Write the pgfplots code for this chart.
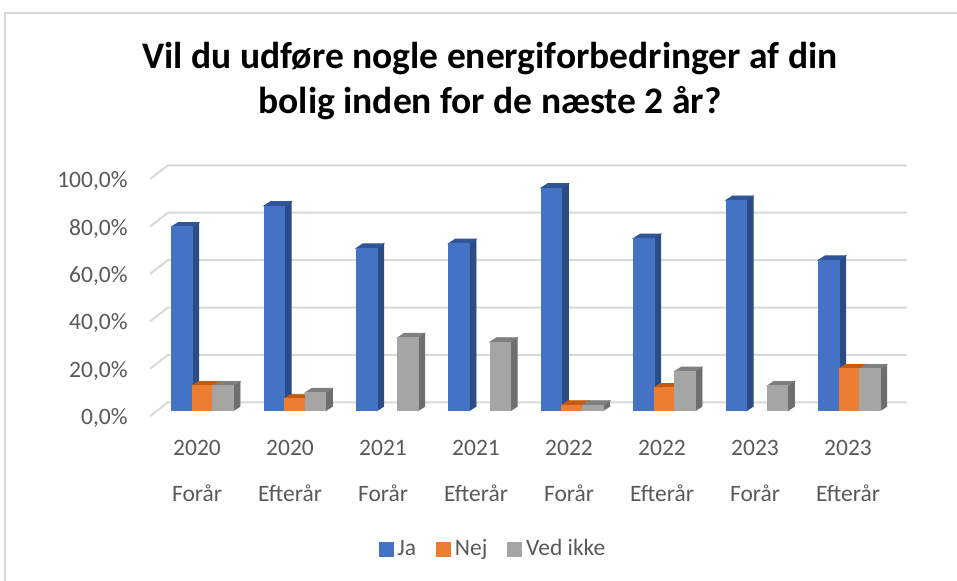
\documentclass[border=0pt]{standalone}
\usepackage{fontspec}
\setmainfont{Carlito}
\usepackage{pgfplots}
\usepackage{pgfplotstable}
\pgfplotsset{compat=1.18}

\definecolor{jaF}{HTML}{4472C4}
\definecolor{jaS}{HTML}{2C4C86}
\definecolor{jaT}{HTML}{2F5597}
\definecolor{neF}{HTML}{ED7D31}
\definecolor{neS}{HTML}{AE5A21}
\definecolor{neT}{HTML}{C55A11}
\definecolor{veF}{HTML}{A5A5A5}
\definecolor{veS}{HTML}{6E6E6E}
\definecolor{veT}{HTML}{7F7F7F}
\definecolor{gridc}{HTML}{D9D9D9}
\definecolor{textgray}{HTML}{595959}
\definecolor{framec}{HTML}{D9D9D9}

\pgfplotstableread{
x ja nej ved
0 77.6 10.5 10.5
1 86.4 5.1 7.6
2 68.6 0 30.8
3 70.6 0 29.0
4 94.0 2.4 2.4
5 72.7 9.7 16.6
6 88.8 0 10.5
7 63.5 17.7 17.7
}\datatab

\pgfdeclareplotmark{none3d}{}
\newcommand\threedbar[4]{%
  \pgfmathsetlengthmacro\barH{\barval*1.185pt}%
  \fill[#3] (#1+10.3pt,-\barH) -- (#1+13.65pt,-\barH+2.15pt) -- (#1+13.65pt,2.15pt) -- (#1+10.3pt,0pt) -- cycle;
  \fill[#4] (#1,0pt) -- (#1+10.3pt,0pt) -- (#1+13.65pt,2.15pt) -- (#1+3.35pt,2.15pt) -- cycle;
  \fill[#2] (#1,-\barH) rectangle (#1+10.3pt,0pt);
}
\pgfplotsset{
  bar3d/.style n args={4}{
    scatter, only marks, mark=none3d,
    restrict y to domain=0.01:1000,
    visualization depends on={rawy \as \barval},
    scatter/@pre marker code/.code={\threedbar{#1}{#2}{#3}{#4}},
    scatter/@post marker code/.code={},
    legend image code/.code={\fill[#2] (0pt,-3.5pt) rectangle (7pt,3.5pt);},
  },
}
\tikzset{
  ylbl/.style={anchor=east, inner sep=0pt, text depth=0pt, text=textgray, font=\fontsize{11.75}{14}\selectfont},
  xlbl/.style={anchor=base, inner sep=0pt, text=textgray, font=\fontsize{11.75}{14}\selectfont},
}

\begin{document}
\begin{tikzpicture}
\path[use as bounding box] (-55pt,-85.15pt) rectangle (423.5pt,205.35pt);
\draw[framec, line width=0.8pt] (-52.5pt,-90pt) -- (-52.5pt,198.85pt) -- (430pt,198.85pt);

\begin{axis}[
  at={(0pt,0pt)}, anchor=south west,
  x=46.2pt, y=1.185pt,
  xmin=-1, xmax=8, ymin=0, ymax=100,
  hide axis, clip=false,
  legend columns=-1,
  legend style={draw=none, fill=none, at={(0.4617,-0.5835)}, anchor=center,
    font=\fontsize{11.75}{14}\selectfont, text=textgray,
    nodes={inner sep=2pt, text=textgray},
    /tikz/every even column/.append style={column sep=8pt}},
  legend cell align=left,
]
\addplot[gridc, line width=1pt, forget plot] coordinates {(-0.567,-2.3) (-0.372,3.54) (7.625,3.54)};
\addplot[gridc, line width=1pt, forget plot] coordinates {(-0.567,17.7) (-0.372,23.54) (7.625,23.54)};
\addplot[gridc, line width=1pt, forget plot] coordinates {(-0.567,37.7) (-0.372,43.54) (7.625,43.54)};
\addplot[gridc, line width=1pt, forget plot] coordinates {(-0.567,57.7) (-0.372,63.54) (7.625,63.54)};
\addplot[gridc, line width=1pt, forget plot] coordinates {(-0.567,77.7) (-0.372,83.54) (7.625,83.54)};
\addplot[gridc, line width=1pt, forget plot] coordinates {(-0.567,97.7) (-0.372,103.54) (7.625,103.54)};

\addplot[bar3d={-15.45pt}{jaF}{jaS}{jaT}] table[x=x,y=ja] {\datatab};
\addlegendentry{Ja}
\addplot[bar3d={-5.15pt}{neF}{neS}{neT}] table[x=x,y=nej] {\datatab};
\addlegendentry{Nej}
\addplot[bar3d={5.15pt}{veF}{veS}{veT}] table[x=x,y=ved] {\datatab};
\addlegendentry{Ved ikke}

\node[ylbl] at (axis cs:-0.805,-2.53) {0,0\%};
\node[ylbl] at (axis cs:-0.805,17.47) {20,0\%};
\node[ylbl] at (axis cs:-0.805,37.47) {40,0\%};
\node[ylbl] at (axis cs:-0.805,57.47) {60,0\%};
\node[ylbl] at (axis cs:-0.805,77.47) {80,0\%};
\node[ylbl] at (axis cs:-0.805,97.47) {100,0\%};

\node[xlbl] at (axis cs:-0.058,-19.1) {2020};
\node[xlbl] at (axis cs:0.9485,-19.1) {2020};
\node[xlbl] at (axis cs:1.955,-19.1) {2021};
\node[xlbl] at (axis cs:2.9615,-19.1) {2021};
\node[xlbl] at (axis cs:3.968,-19.1) {2022};
\node[xlbl] at (axis cs:4.9745,-19.1) {2022};
\node[xlbl] at (axis cs:5.981,-19.1) {2023};
\node[xlbl] at (axis cs:6.9875,-19.1) {2023};

\node[xlbl] at (axis cs:-0.058,-38.5) {Forår};
\node[xlbl] at (axis cs:0.9485,-38.5) {Efterår};
\node[xlbl] at (axis cs:1.955,-38.5) {Forår};
\node[xlbl] at (axis cs:2.9615,-38.5) {Efterår};
\node[xlbl] at (axis cs:3.968,-38.5) {Forår};
\node[xlbl] at (axis cs:4.9745,-38.5) {Efterår};
\node[xlbl] at (axis cs:5.981,-38.5) {Forår};
\node[xlbl] at (axis cs:6.9875,-38.5) {Efterår};
\end{axis}

\node[anchor=base, inner sep=0pt, font=\bfseries\fontsize{18.75}{22}\selectfont] at (190pt,170.85pt) {Vil du udføre nogle energiforbedringer af din};
\node[anchor=base, inner sep=0pt, font=\bfseries\fontsize{18.75}{22}\selectfont] at (190pt,148.35pt) {bolig inden for de næste 2 år?};
\end{tikzpicture}
\end{document}
